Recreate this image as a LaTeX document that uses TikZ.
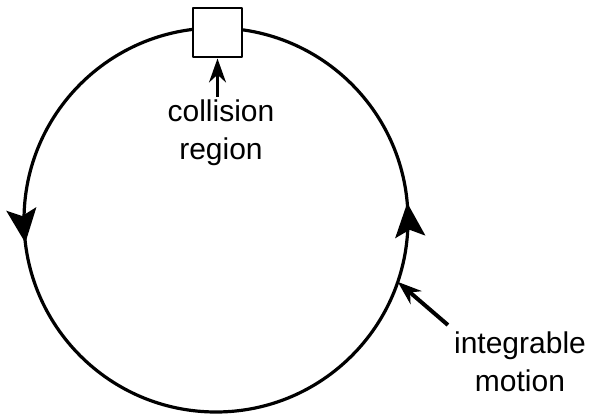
\documentclass[tikz,border=0pt]{standalone}
\usepackage{fontspec}
\setmainfont{Liberation Sans}
\usetikzlibrary{arrows.meta,decorations.markings}
\tikzset{
  orbit/.style={line width=3.2pt, postaction={decorate},
    decoration={markings,
      mark=at position 0.0142 with {\arrow{Stealth[length=34pt,width=30pt,inset=7pt]}},
      mark=at position 0.519 with {\arrow{Stealth[length=34pt,width=30pt,inset=7pt]}}}},
  pointer/.style={line width=3pt, -{Stealth[length=24pt,width=17pt]}},
  label/.style={inner sep=3pt, align=center, font=\fontsize{30}{38}\selectfont},
}
\begin{document}
\begin{tikzpicture}[x=1pt, y=1pt, line join=round]
 \def\rad{192}
 \useasboundingbox (0,0) rectangle (596,415);
 \coordinate (o) at (216,195);
 \draw[orbit] (o) circle[radius=\rad];
 \node[draw, fill=white, line width=2pt, minimum size=49pt, inner sep=0pt] (box) at (217.5,382) {};
 \node[label, anchor=north] (coll) at (221,318) {collision\\region};
 \node[label, anchor=north] (integ) at (520,86) {integrable\\motion};
 \coordinate (hit) at ([shift={(-18.8:\rad)}]o);
 \draw[pointer, line width=2.5pt] (coll.north -| box.south) -- (box.south);
 \draw[pointer, line width=4pt] ([shift={(-3,4)}]integ.north west) -- (hit);
\end{tikzpicture}
\end{document}
